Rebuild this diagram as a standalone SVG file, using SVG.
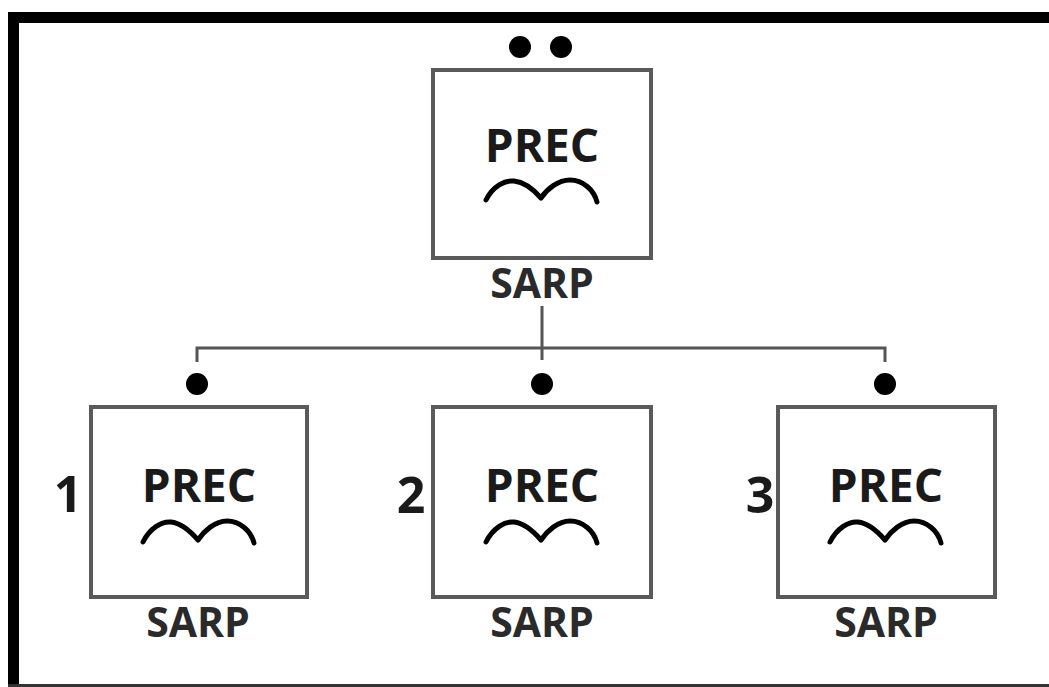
<svg xmlns="http://www.w3.org/2000/svg" width="1049" height="687" viewBox="0 0 1049 687">
<style>
.box{fill:#fff;stroke:#5a5a5a;stroke-width:4}
.dot{fill:#000}
.t{font-family:"Open Sans","Liberation Sans",sans-serif;font-weight:bold;fill:#1a1a1a;text-anchor:middle}
.prec{font-size:46px}
.sarp{font-size:41px;fill:#2a2a2a}
.num{font-size:50px}
.wave{fill:none;stroke:#000;stroke-width:5;stroke-linecap:round;stroke-linejoin:round}
.conn{fill:none;stroke:#555;stroke-width:3}
</style>
<rect width="1049" height="687" fill="#fff"/>
<g id="frame">
<rect x="8" y="12" width="1041" height="11" fill="#000"/>
<rect x="8" y="12" width="11" height="675" fill="#000"/>
<rect x="8" y="684" width="1041" height="3" fill="#333"/>
</g>
<g id="connectors">
<path class="conn" d="M542 306 V360"/>
<path class="conn" d="M197 362 V348 H885 V362"/>
</g>
<g id="top">
<circle class="dot" cx="520" cy="47" r="11"/>
<circle class="dot" cx="561" cy="47" r="11"/>
<rect class="box" x="433" y="70" width="218" height="188"/>
<text class="t prec" x="542" y="162">PREC</text>
<path class="wave" d="M486 200 C493 186 505 180 514 181 C525 182 534 190 541 198 C547 189 558 180 570 180 C583 180 594 190 597 202"/>
<text class="t sarp" x="542" y="298">SARP</text>
</g>
<g id="node1">
<circle class="dot" cx="197" cy="384" r="11"/>
<rect class="box" x="91" y="407" width="216" height="190"/>
<text class="t prec" x="199" y="502">PREC</text>
<path class="wave" d="M143 542 C150 528 162 521 171 522 C182 523 191 532 198 540 C204 531 215 521 227 521 C240 521 251 531 254 543"/>
<text class="t sarp" x="198" y="637">SARP</text>
<text class="t num" x="68" y="512">1</text>
</g>
<g id="node2">
<circle class="dot" cx="542" cy="384" r="11"/>
<rect class="box" x="433" y="407" width="218" height="190"/>
<text class="t prec" x="542" y="502">PREC</text>
<path class="wave" d="M486 542 C493 528 505 521 514 522 C525 523 534 532 541 540 C547 531 558 521 570 521 C583 521 594 531 597 543"/>
<text class="t sarp" x="542" y="637">SARP</text>
<text class="t num" x="411" y="513">2</text>
</g>
<g id="node3">
<circle class="dot" cx="885" cy="384" r="11"/>
<rect class="box" x="778" y="407" width="217" height="190"/>
<text class="t prec" x="886" y="502">PREC</text>
<path class="wave" d="M830 542 C837 528 849 521 858 522 C869 523 878 532 885 540 C891 531 902 521 914 521 C927 521 938 531 941 543"/>
<text class="t sarp" x="886" y="637">SARP</text>
<text class="t num" x="760" y="513">3</text>
</g>
</svg>
